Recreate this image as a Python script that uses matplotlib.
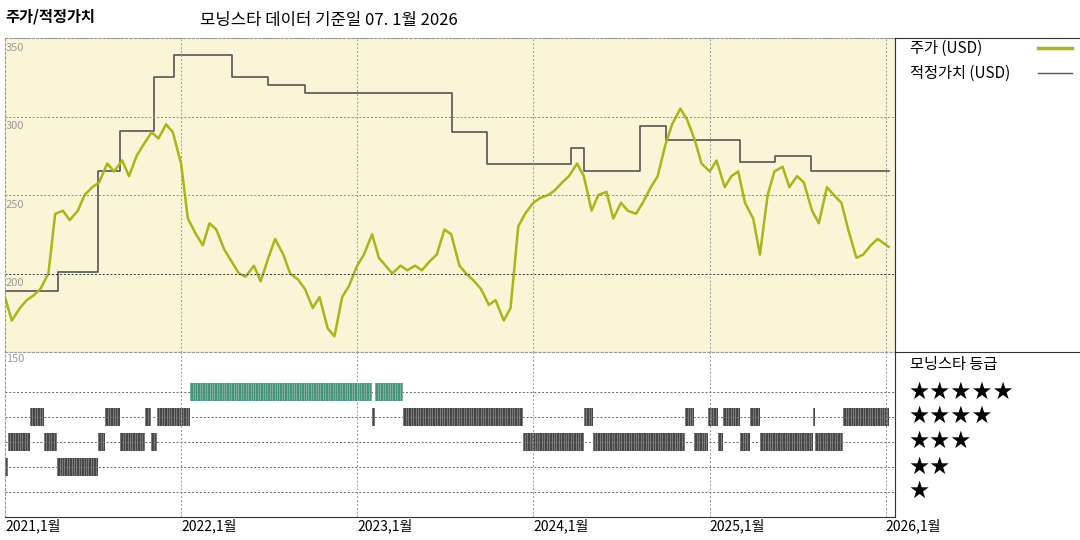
import matplotlib
matplotlib.use("Agg")
import matplotlib.pyplot as plt
import matplotlib.dates as mdates
import numpy as np
import pandas as pd

plt.rcParams['font.family'] = ['Noto Sans CJK KR', 'DejaVu Sans']

price_dates = pd.date_range("2021-01-01", periods=120, freq="SMS").tolist() + [pd.Timestamp("2026-01-07")]
price = [185,170,178,183,186,190,200,238,240,234,240,250,255,258,270,265,272,262,275,282,290,286,295,290,
         270,235,225,218,232,228,215,208,200,198,205,195,210,222,212,200,196,190,178,185,165,160,185,192,
         205,212,225,210,205,200,205,202,205,202,208,212,228,225,205,200,195,190,180,183,170,178,230,238,
         245,248,250,253,258,262,270,262,240,250,252,235,245,240,238,245,255,262,282,295,305,298,285,270,
         265,272,255,262,265,245,235,212,250,265,268,255,262,258,240,232,255,250,245,228,210,212,218,222,217]

fv_dates = ["2021-01-01","2021-04-21","2021-07-13","2021-08-28","2021-11-05","2021-12-17","2022-04-16",
            "2022-06-30","2022-09-15","2023-07-17","2023-09-27","2024-03-19","2024-04-15","2024-08-10",
            "2024-10-03","2025-03-05","2025-05-17","2025-07-29","2026-01-07"]
fv = [189,201,265,291,325,339,325,320,315,290,270,280,265,294,285,271,275,265,265]

rating_start = ["2021-01-01","2021-01-07","2021-02-22","2021-03-23","2021-04-19","2021-07-13","2021-07-28",
                "2021-08-28","2021-10-19","2021-10-31","2021-11-12","2022-01-20","2023-01-31","2023-02-08",
                "2023-04-07","2023-12-10","2024-04-15","2024-05-03","2024-11-11","2024-11-30","2024-12-29",
                "2025-01-19","2025-01-29","2025-03-05","2025-03-26","2025-04-16","2025-08-02","2025-08-08",
                "2025-10-05"]
rating_end = rating_start[1:] + ["2026-01-07"]
rating = [2,3,4,3,2,3,4,3,4,3,4,5,4,5,4,3,4,3,4,3,4,3,4,3,4,3,4,3,4]

xmin, xmax = pd.Timestamp("2021-01-01"), pd.Timestamp("2026-01-20")
W, H = 1080, 540
fig = plt.figure(figsize=(10.8, 5.4), dpi=100)
ax = fig.add_axes([5/W, (H-352)/H, 890/W, 314/H])
ax2 = fig.add_axes([5/W, (H-517)/H, 890/W, 165/H])

ax.set_facecolor("#faf5d7")
ax.plot(pd.to_datetime(fv_dates), fv, drawstyle="steps-post", color="#555555", lw=1.2)
ax.plot(price_dates, price, color="#aab518", lw=1.8)
ax.set_xlim(xmin, xmax); ax.set_ylim(150, 350)
ax.set_xticks([]); ax.set_yticks([])
for v in [200, 250, 300, 350]:
    ax.axhline(v, color="#888888" if v != 200 else "#333333", ls=(0, (2, 2)), lw=0.7)
    ax.text(xmin + pd.Timedelta(days=2), v - 3, str(v), color="#999999", fontsize=8, va="top", ha="left")
years = [pd.Timestamp(f"{y}-01-01") for y in range(2021, 2027)]
for y in years[1:]:
    ax.axvline(y, color="#999999", ls=(0, (2, 2)), lw=0.7)
    ax2.axvline(y, color="#999999", ls=(0, (2, 2)), lw=0.7)
for s in ax.spines.values():
    s.set_color("#999999"); s.set_linestyle((0, (2, 2)))

ax2.set_xlim(xmin, xmax); ax2.set_ylim(0, 6.6)
ax2.set_yticks([])
rows = {5: 5.0, 4: 4.0, 3: 3.0, 2: 2.0, 1: 1.0}
for r in range(1, 6):
    ax2.axhline(rows[r], color="#666666", ls=(0, (2, 2)), lw=0.7)
ax2.text(xmin + pd.Timedelta(days=2), 6.5, "150", color="#999999", fontsize=8, va="top")
for s0, s1, r in zip(rating_start, rating_end, rating):
    d0, d1 = pd.Timestamp(s0), pd.Timestamp(s1)
    col = "#2e8b6a" if r == 5 else "#333333"
    ax2.fill_between([d0, d1], rows[r]-0.35, rows[r]+0.35, color=col, alpha=0.9, lw=0)
    for d in pd.date_range(d0, d1, freq="5D"):
        ax2.plot([d, d], [rows[r]-0.35, rows[r]+0.35], color="white", lw=0.4, alpha=0.5)
ax2.set_xticks(years)
ax2.set_xticklabels([f"{y.year},1월" for y in years], fontsize=10, ha="left")
ax2.tick_params(axis="x", length=0, pad=1)
for k, s in ax2.spines.items():
    if k == "bottom":
        s.set_color("#333333")
    else:
        s.set_color("#999999"); s.set_linestyle((0, (2, 2)))

# right panel
fig.add_artist(plt.Line2D([895/W, 1], [(H-352)/H]*2, color="#333333", lw=0.8))
fig.add_artist(plt.Line2D([895/W, 895/W], [(H-517)/H, (H-38)/H], color="#333333", lw=0.8))
fig.add_artist(plt.Line2D([895/W, 1], [(H-38)/H]*2, color="#333333", lw=0.8))
fig.text(910/W, (H-48)/H, "주가 (USD)", fontsize=11, va="center")
fig.add_artist(plt.Line2D([1038/W, 1072/W], [(H-48)/H]*2, color="#aab518", lw=2.5))
fig.text(910/W, (H-73)/H, "적정가치 (USD)", fontsize=11, va="center")
fig.add_artist(plt.Line2D([1038/W, 1072/W], [(H-73)/H]*2, color="#555555", lw=1))
fig.text(910/W, (H-364)/H, "모닝스타 등급", fontsize=11, va="center")
for r in range(5, 0, -1):
    yy = {5: 392, 4: 416, 3: 441, 2: 467, 1: 491}[r]
    fig.text(908/W, (H-yy)/H, "★" * r, fontsize=17, va="center", family="DejaVu Sans")

fig.text(5/W, (H-17)/H, "주가/적정가치", fontsize=11, weight="bold", va="center")
fig.text(200/W, (H-20)/H, "모닝스타 데이터 기준일 07. 1월 2026", fontsize=12, va="center")

fig.savefig("out.png", dpi=100)
